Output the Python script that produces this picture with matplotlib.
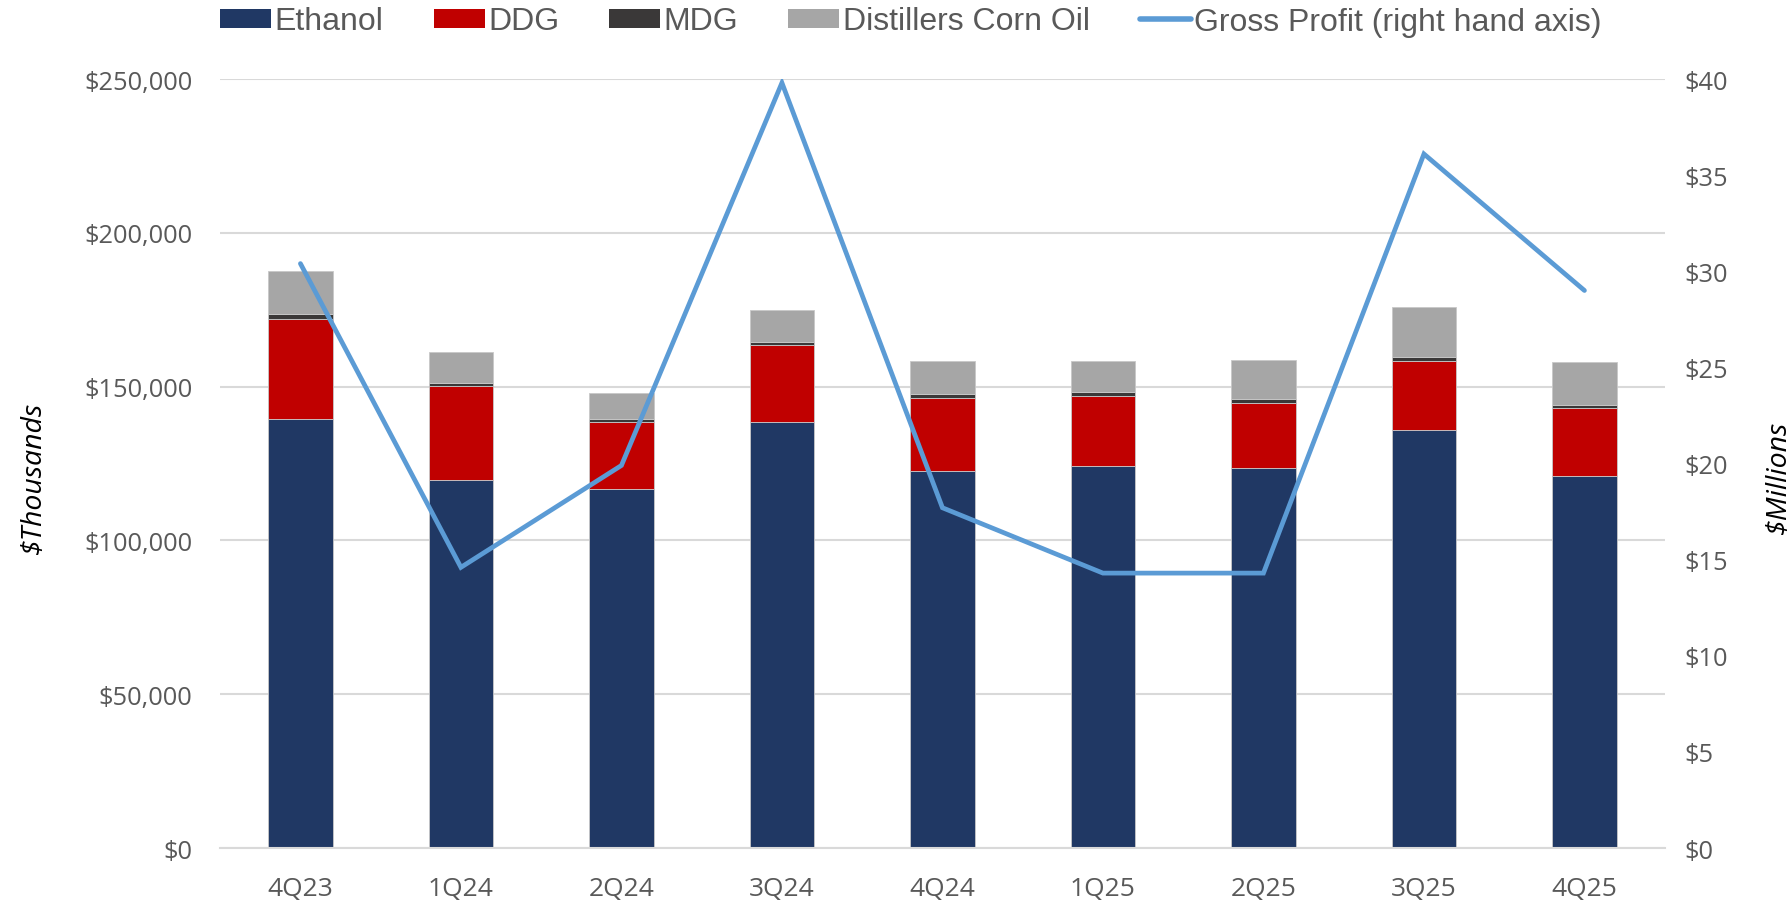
import matplotlib
matplotlib.use("Agg")
import matplotlib.pyplot as plt
import numpy as np
from matplotlib.patches import Patch
from matplotlib.lines import Line2D
from matplotlib.ticker import FuncFormatter, MultipleLocator

quarters = ["4Q23", "1Q24", "2Q24", "3Q24", "4Q24", "1Q25", "2Q25", "3Q25", "4Q25"]
ethanol = [139.5, 119.5, 116.6, 138.4, 122.5, 124.3, 123.4, 136.0, 120.8]  # $ thousands (x1000)
ddg = [32.5, 30.6, 21.8, 25.0, 23.7, 22.5, 21.4, 22.4, 22.1]
mdg = [1.6, 1.2, 1.2, 1.1, 1.4, 1.4, 1.2, 1.2, 1.1]
corn_oil = [13.9, 9.8, 8.4, 10.4, 10.6, 10.1, 12.6, 16.3, 14.0]
gross_profit = [30.4, 14.6, 19.9, 39.8, 17.7, 14.3, 14.3, 36.1, 29.0]  # $ millions

c_eth = "#203864"
c_ddg = "#C00000"
c_mdg = "#3A3838"
c_dco = "#A6A6A6"
c_gp = "#5B9BD5"
tick_color = "#595959"

fig = plt.figure(figsize=(17.9, 9.04), dpi=100)
ax = fig.add_axes([0.123, 0.0608, 0.807, 0.8507])
ax2 = ax.twinx()

x = np.arange(len(quarters))
w = 0.4
eth = np.array(ethanol) * 1000
dd = np.array(ddg) * 1000
md = np.array(mdg) * 1000
co = np.array(corn_oil) * 1000
ek = dict(width=w, edgecolor="#c8c8c8", linewidth=0.6, zorder=2)
ax.bar(x, eth, color=c_eth, **ek)
ax.bar(x, dd, bottom=eth, color=c_ddg, **ek)
ax.bar(x, md, bottom=eth + dd, color=c_mdg, **ek)
ax.bar(x, co, bottom=eth + dd + md, color=c_dco, **ek)

ax2.plot(x, gross_profit, color=c_gp, lw=3.4, solid_capstyle="round", solid_joinstyle="miter", zorder=5)

ax.set_xlim(-0.5, len(quarters) - 0.5)
ax.set_ylim(0, 250000)
ax2.set_ylim(0, 40)
ax.yaxis.set_major_locator(MultipleLocator(50000))
ax2.yaxis.set_major_locator(MultipleLocator(5))
ax.yaxis.set_major_formatter(FuncFormatter(lambda v, p: f"${v:,.0f}"))
ax2.yaxis.set_major_formatter(FuncFormatter(lambda v, p: f"${v:,.0f}"))

ax.set_xticks(x)
ax.set_xticklabels(quarters)

font = "Open Sans"
for a in (ax, ax2):
    for s in a.spines.values():
        s.set_visible(False)
    a.tick_params(length=0, labelcolor=tick_color)
    for lab in a.get_yticklabels() + a.get_xticklabels():
        lab.set_fontfamily(font)
ax.tick_params(axis="x", labelsize=19, pad=20)
ax.tick_params(axis="y", labelsize=18.3, pad=20)
ax2.tick_params(axis="y", labelsize=18.3, pad=14)
ax.spines["bottom"].set_visible(True)
ax.spines["bottom"].set_color("#d9d9d9")
ax.spines["bottom"].set_linewidth(1.5)
ax.grid(axis="y", color="#d9d9d9", lw=1.5, zorder=0)
ax.set_axisbelow(True)

ax.set_ylabel("$Thousands", fontsize=20.5, fontstyle="italic", family=font, rotation=90, va="bottom")
ax.yaxis.set_label_coords(-0.1192, 0.483)
ax2.set_ylabel("$Millions", fontsize=20.5, fontstyle="italic", family=font, rotation=90, va="top")
ax2.yaxis.set_label_coords(1.0694, 0.483)

handles = [
    Patch(facecolor=c_eth, label="Ethanol"),
    Patch(facecolor=c_ddg, label="DDG"),
    Patch(facecolor=c_mdg, label="MDG"),
    Patch(facecolor=c_dco, label="Distillers Corn Oil"),
    Line2D([0], [0], color=c_gp, lw=4, solid_capstyle="round", label="Gross Profit (right hand axis)"),
]
leg = fig.legend(handles=handles, loc="center", bbox_to_anchor=(911 / 1790, 1 - 22.5 / 904), ncol=5,
                 frameon=False, prop={"family": "Liberation Sans", "size": 23},
                 handlelength=1.6, handleheight=0.55, handletextpad=0.1, columnspacing=1.57, borderpad=0)
for t in leg.get_texts():
    t.set_color(tick_color)

fig.savefig("out.png", dpi=100)
